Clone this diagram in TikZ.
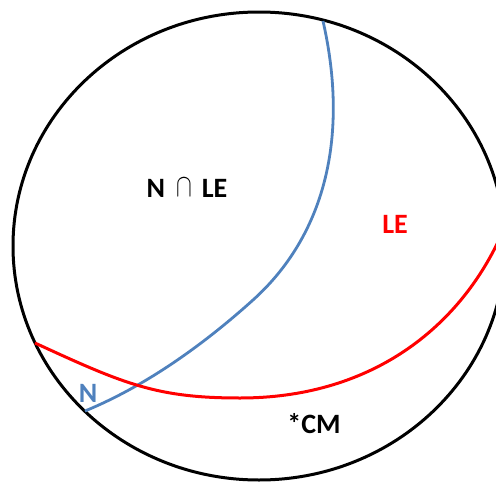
\documentclass[tikz,border=0pt]{standalone}
\usepackage{graphicx}
\usepackage{fontspec}
\setmainfont{Carlito}
\definecolor{nblue}{HTML}{4F81BD}
\definecolor{lered}{HTML}{FF0000}
\tikzset{
  lbl/.style={font=\fontsize{28}{30}\selectfont\bfseries, inner sep=0pt, anchor=center},
  rim/.style={draw=black, line width=3pt},
  ncurve/.style={draw=nblue, line width=2.8pt},
  lecurve/.style={draw=lered, line width=3pt}
}
\begin{document}
\begin{tikzpicture}[x=1pt,y=-1pt]
\useasboundingbox (0,0) rectangle (496,482);
\begin{scope}
\clip (0,0) rectangle (496,482);
\draw[rim] (259,246) ellipse [x radius=246, y radius=234];
\draw[ncurve] (323,21) .. controls (350,140) and (323,237) .. (253,300)
                       .. controls (198.7,348.9) and (142,387.5) .. (85,411);
\draw[lecurve] (35,343) .. controls (124.7,384.4) and (157,398) .. (240,398)
                        .. controls (368,398) and (453.3,331.3) .. (496,246)
                        -- (498,242);
\end{scope}
\node[lbl] (inter) at (187,188) {N\hspace{11pt}\raisebox{0.5pt}{\scalebox{0.95}[1.3]{$\cap$}}\hspace{10pt}LE};
\node[lbl, text=lered] (le) at (395,224) {LE};
\node[lbl, text=nblue] (n) at (88,393) {N};
\node[lbl] (cm) at (314,424) {*CM};
\end{tikzpicture}
\end{document}
